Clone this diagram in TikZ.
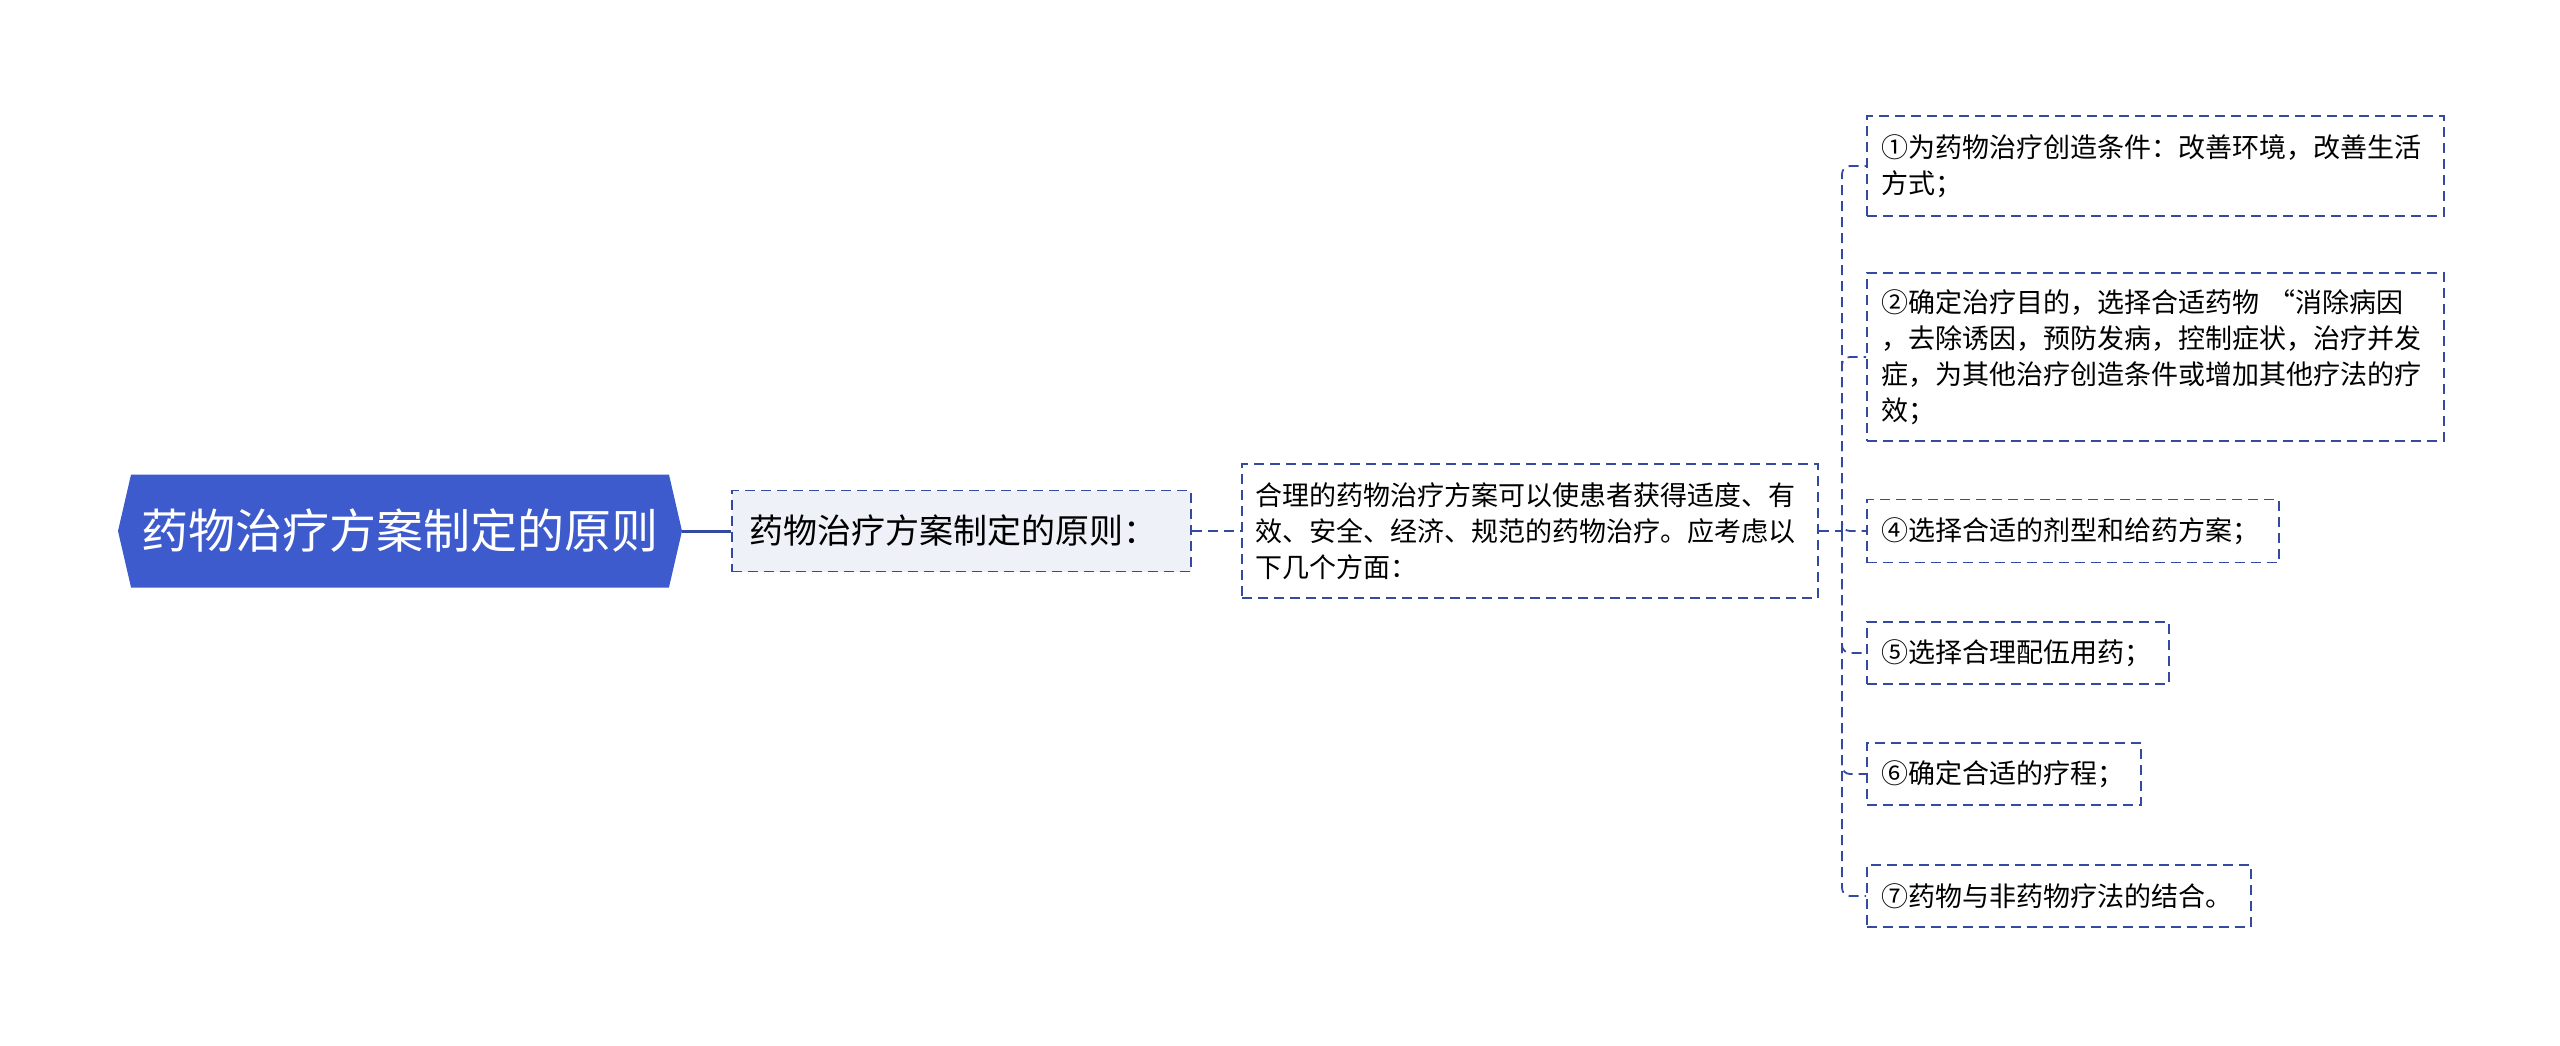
\documentclass[tikz,border=0pt]{standalone}
\usepackage{fontspec}
\setmainfont{Noto Sans CJK SC}
\usetikzlibrary{shapes.symbols}
\definecolor{rootblue}{RGB}{61,91,204}
\definecolor{edgeblue}{RGB}{52,74,160}
\definecolor{lvlfill}{RGB}{238,241,247}
\tikzset{
  rootbox/.style={signal, signal to=east and west, signal pointer angle=154,
    fill=rootblue, draw=none, text=white, minimum width=564pt, minimum height=113pt,
    inner sep=0pt, font=\fontsize{47}{56}\selectfont},
  dbox/.style={draw=edgeblue, line width=1.8pt, dash pattern=on 10pt off 6pt,
    rectangle, inner ysep=0pt, align=left, anchor=west},
  leafbox/.style={dbox, inner xsep=15pt, font=\fontsize{27}{36}\selectfont},
  conn/.style={draw=edgeblue, line width=1.8pt, dash pattern=on 10pt off 6pt, rounded corners=8pt},
  solidconn/.style={draw=edgeblue, line width=3pt}
}
\begin{document}
\begin{tikzpicture}[x=1pt,y=-1pt]
\useasboundingbox[fill=white] (0,0) rectangle (2560,1045);
\node[rootbox] (root) at (400,531) {药物治疗方案制定的原则};
\node[dbox, fill=lvlfill, inner xsep=18pt, text width=423pt, minimum height=81pt,
  font=\fontsize{34}{40}\selectfont] (l1) at (731,531) {药物治疗方案制定的原则：};
\node[leafbox, inner xsep=14pt, text width=548pt, minimum height=134pt] (l2) at (1241,531)
  {合理的药物治疗方案可以使患者获得适度、有\\效、安全、经济、规范的药物治疗。应考虑以\\下几个方面：};
\node[leafbox, text width=547pt, minimum height=100pt] (a1) at (1866,166)
  {①为药物治疗创造条件：改善环境，改善生活\\方式；};
\node[leafbox, text width=547pt, minimum height=168pt] (a2) at (1866,357)
  {②确定治疗目的，选择合适药物 “消除病因\\，去除诱因，预防发病，控制症状，治疗并发\\症，为其他治疗创造条件或增加其他疗法的疗\\效；};
\node[leafbox, text width=382pt, minimum height=63pt] (a4) at (1866,531) {④选择合适的剂型和给药方案；};
\node[leafbox, text width=272pt, minimum height=62pt] (a5) at (1866,653) {⑤选择合理配伍用药；};
\node[leafbox, text width=244pt, minimum height=62pt] (a6) at (1866,774) {⑥确定合适的疗程；};
\node[leafbox, text width=354pt, minimum height=62pt] (a7) at (1866,896) {⑦药物与非药物疗法的结合。};
\coordinate (j) at (1842,531);
\draw[solidconn] (root.east) -- (l1.west);
\draw[conn] (l1.east) -- (l2.west);
\draw[conn] (l2.east) -- (j);
\foreach \n in {a1,a2,a4,a5,a6,a7} {
  \draw[conn] (j) |- (\n.west);
}
\end{tikzpicture}
\end{document}
